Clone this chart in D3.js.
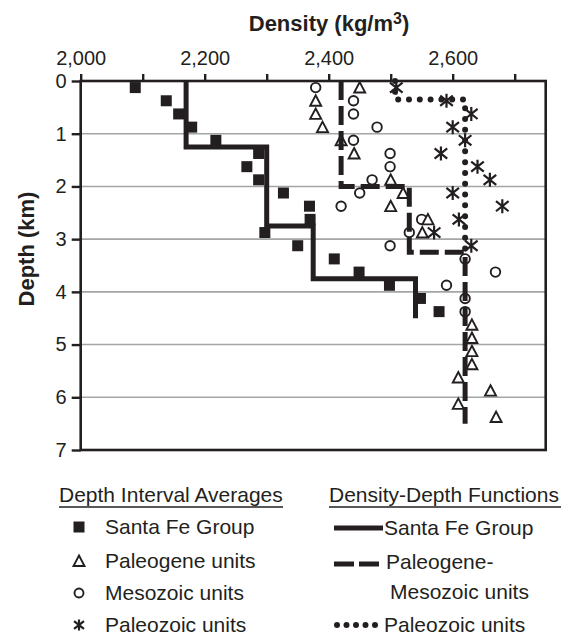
<!DOCTYPE html>
<html><head><meta charset="utf-8">
<script src="https://cdn.jsdelivr.net/npm/d3@7"></script>
<style>
body{margin:0;background:#fff;}
text{font-family:"Liberation Sans",Arial,Helvetica,sans-serif;fill:#231f20;}
</style></head>
<body>
<svg id="c" width="564" height="636"></svg>
<script>
// ---- data (density kg/m3, depth km) ----
const xTicks = [2000,2100,2200,2300,2400,2500,2600,2700];
const xLabelTicks = [2000,2200,2400,2600];
const yTicks = [0,1,2,3,4,5,6,7];

const santaFeAvg = [[2088,0.125],[2138,0.375],[2158,0.625],[2179,0.875],[2218,1.125],[2287,1.375],[2268,1.625],[2287,1.875],[2327,2.125],[2369,2.375],[2370,2.625],[2297,2.875],[2350,3.125],[2409,3.375],[2449,3.625],[2498,3.875],[2548,4.125],[2578,4.375]];
const paleogeneAvg = [[2450,0.125],[2379,0.375],[2379,0.625],[2390,0.875],[2420,1.125],[2441,1.375],[2500,1.875],[2520,2.125],[2500,2.375],[2560,2.625],[2551,2.875],[2631,4.625],[2631,4.875],[2631,5.125],[2631,5.375],[2609,5.625],[2661,5.875],[2609,6.125],[2670,6.375]];
const mesozoicAvg = [[2379,0.125],[2440,0.375],[2440,0.625],[2478,0.875],[2440,1.125],[2499,1.375],[2499,1.625],[2470,1.875],[2450,2.125],[2420,2.375],[2550,2.625],[2530,2.875],[2499,3.125],[2620,3.375],[2669,3.625],[2590,3.875],[2620,4.125],[2620,4.375]];
const paleozoicAvg = [[2509,0.125],[2590,0.375],[2630,0.625],[2600,0.875],[2620,1.125],[2581,1.375],[2640,1.625],[2660,1.875],[2600,2.125],[2680,2.375],[2610,2.625],[2570,2.875],[2630,3.125]];

const santaFeFn = [[2170,0],[2170,1.25],[2300,1.25],[2300,2.75],[2375,2.75],[2375,3.75],[2540,3.75],[2540,4.5]];
const paleoMesoFn = [[2420,0],[2420,2],[2530,2],[2530,3.25],[2620,3.25],[2620,6.5]];
const paleozoicFn = [[2507,0],[2507,0.35],[2620,0.35],[2620,3.3]];

const ink = "#231f20";
const svg = d3.select("#c");
const x = d3.scaleLinear().domain([2000,2750]).range([80.7,545.7]);
const y = d3.scaleLinear().domain([0,7]).range([81,450]);

// gridlines
svg.append("g").selectAll("line").data(yTicks.filter(d=>d>0&&d<7)).join("line")
  .attr("x1",x(2000)).attr("x2",x(2750)).attr("y1",d=>y(d)).attr("y2",d=>y(d))
  .attr("stroke","#a3a5a7").attr("stroke-width",1.6);

// frame
svg.append("rect").attr("x",x(2000)).attr("y",y(0)).attr("width",x(2750)-x(2000)).attr("height",y(7)-y(0))
  .attr("fill","none").attr("stroke",ink).attr("stroke-width",2.6);

// axes
const fmt = d3.format(",");
const xa = svg.append("g").attr("transform",`translate(0,${y(0)})`)
  .call(d3.axisTop(x).tickValues(xTicks).tickSize(7).tickPadding(9)
    .tickFormat(d=>xLabelTicks.includes(d)?fmt(d):""));
const ya = svg.append("g").attr("transform",`translate(${x(2000)},0)`)
  .call(d3.axisLeft(y).tickValues(yTicks).tickSize(9).tickPadding(5).tickFormat(d3.format("d")));
[xa,ya].forEach(g=>{
  g.select(".domain").remove();
  g.selectAll(".tick line").attr("stroke",ink).attr("stroke-width",2.4);
  g.selectAll(".tick text").attr("font-size",20).attr("fill",ink).attr("font-family",null);
});

// titles
const t = svg.append("text").attr("x",329).attr("y",31).attr("text-anchor","middle")
  .attr("font-size",22).attr("font-weight","bold");
t.append("tspan").text("Density (kg/m");
t.append("tspan").attr("font-size",16).attr("dy",-7).text("3");
t.append("tspan").attr("dy",7).text(")");
svg.append("text").attr("transform","translate(34,249) rotate(-90)").attr("text-anchor","middle")
  .attr("font-size",22).attr("font-weight","bold").text("Depth (km)");

// marker symbol drawers
function square(g,s){g.append("rect").attr("x",-s/2).attr("y",-s/2).attr("width",s).attr("height",s).attr("fill",ink);}
function tri(g,s){const h=s*0.9;g.append("path").attr("d",`M0,${-h/2-0.5}L${s/2},${h/2}L${-s/2},${h/2}Z`)
  .attr("fill","#fff").attr("stroke",ink).attr("stroke-width",1.9).attr("stroke-linejoin","miter");}
function circ(g,s){g.append("circle").attr("r",s/2).attr("fill","#fff").attr("stroke",ink).attr("stroke-width",1.9);}
function star(g,s){const a=s/2,b=s*0.45;g.append("path").attr("d",`M0,${-a}V${a}M${-b},${-b*0.8}L${b},${b*0.8}M${-b},${b*0.8}L${b},${-b*0.8}`)
  .attr("stroke",ink).attr("stroke-width",2.2).attr("fill","none");}

function plotPoints(data,fn,s){
  svg.append("g").selectAll("g").data(data).join("g")
    .attr("transform",d=>`translate(${x(d[0])},${y(d[1])})`)
    .each(function(){fn(d3.select(this),s);});
}
plotPoints(mesozoicAvg,circ,9.5);
plotPoints(paleogeneAvg,tri,11);
plotPoints(paleozoicAvg,star,14);
plotPoints(santaFeAvg,square,11);

// functions
const line = d3.line().x(d=>x(d[0])).y(d=>y(d[1]));
svg.append("path").attr("d",line(santaFeFn)).attr("fill","none").attr("stroke",ink).attr("stroke-width",5);
svg.append("path").attr("d",line(paleoMesoFn)).attr("fill","none").attr("stroke",ink).attr("stroke-width",5)
  .attr("stroke-dasharray","19,6");
svg.append("path").attr("d",line(paleozoicFn)).attr("fill","none").attr("stroke",ink).attr("stroke-width",6)
  .attr("stroke-dasharray","0,10.8").attr("stroke-linecap","round");

// legend
const lg = svg.append("g");
const lf = 21;
lg.append("text").attr("x",59).attr("y",502).attr("font-size",lf).text("Depth Interval Averages");
lg.append("line").attr("x1",59).attr("x2",283).attr("y1",507).attr("y2",507).attr("stroke",ink).attr("stroke-width",1.3);
lg.append("text").attr("x",329).attr("y",502).attr("font-size",lf).text("Density-Depth Functions");
lg.append("line").attr("x1",329).attr("x2",561).attr("y1",507).attr("y2",507).attr("stroke",ink).attr("stroke-width",1.3);

const leftItems = [["Santa Fe Group",square,527],["Paleogene units",tri,561],["Mesozoic units",circ,593],["Paleozoic units",star,625]];
leftItems.forEach(([label,fn,cy])=>{
  const g = lg.append("g").attr("transform",`translate(79,${cy})`);
  fn(g, fn===square?11:(fn===circ?9:11));
  lg.append("text").attr("x",105).attr("y",cy+7).attr("font-size",lf).text(label);
});
// right column
lg.append("line").attr("x1",334).attr("x2",383).attr("y1",528).attr("y2",528).attr("stroke",ink).attr("stroke-width",5);
lg.append("text").attr("x",384).attr("y",535).attr("font-size",lf).text("Santa Fe Group");
lg.append("line").attr("x1",334).attr("x2",381).attr("y1",564).attr("y2",564).attr("stroke",ink).attr("stroke-width",5).attr("stroke-dasharray","20,5");
lg.append("text").attr("x",386).attr("y",569).attr("font-size",lf).text("Paleogene-");
lg.append("text").attr("x",390).attr("y",599).attr("font-size",lf).text("Mesozoic units");
lg.append("line").attr("x1",337).attr("x2",383).attr("y1",625).attr("y2",625).attr("stroke",ink).attr("stroke-width",6)
  .attr("stroke-dasharray","0,9.5").attr("stroke-linecap","round");
lg.append("text").attr("x",384).attr("y",632).attr("font-size",lf).text("Paleozoic units");
</script>
</body></html>
